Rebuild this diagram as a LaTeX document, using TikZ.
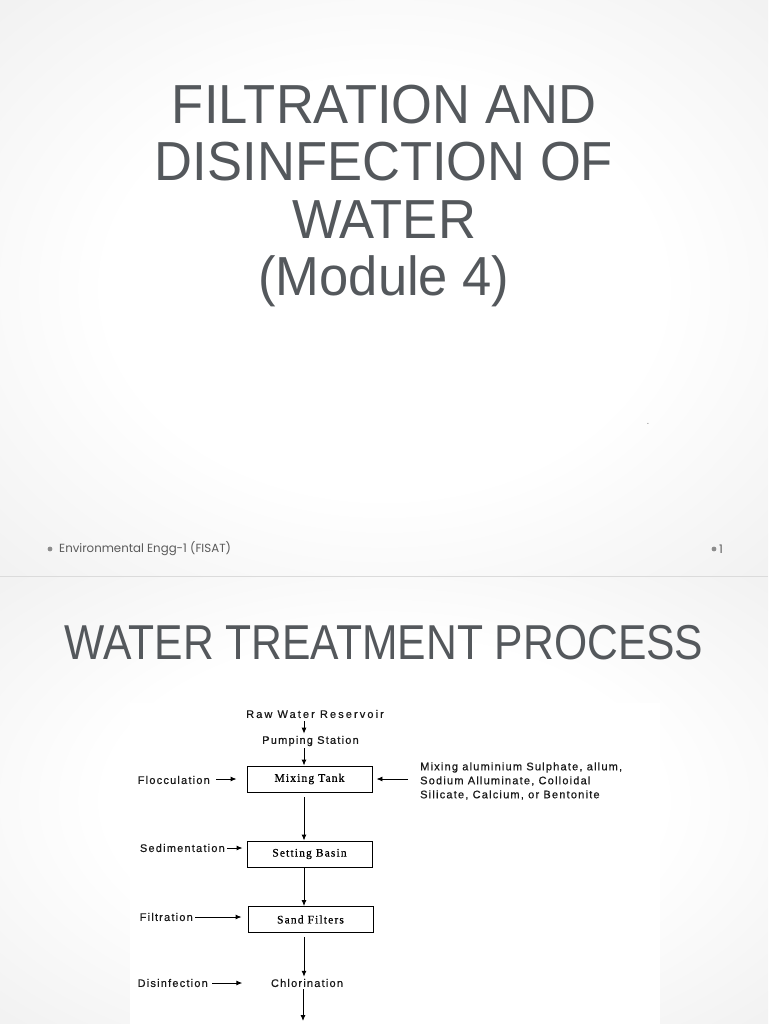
\documentclass[tikz,border=0pt]{standalone}
\usepackage{fontspec}
\usepackage{xcolor}
\usepackage{tikz}
\usetikzlibrary{positioning,arrows.meta}
\setmainfont{Liberation Sans}
\newfontfamily\titlefont[FakeStretch=0.955]{Liberation Sans}
\newfontfamily\headfont[FakeStretch=0.87]{Liberation Sans}
\newfontfamily\footfont{Poppins}
\newfontfamily\diagfont[LetterSpace=11, FakeBold=0.6]{Liberation Sans}
\newfontfamily\widefont[LetterSpace=19, FakeBold=0.6]{Liberation Sans}
\newfontfamily\boxfont[LetterSpace=10, FakeBold=0.6]{Liberation Serif}
\definecolor{titlegray}{RGB}{84,88,92}
\definecolor{footgray}{RGB}{90,90,90}
\definecolor{dotgray}{RGB}{140,140,140}
\definecolor{bgmid}{RGB}{234,234,234}
\definecolor{bgedge}{RGB}{210,210,210}
\pgfdeclareradialshading{slideglow}{\pgfpoint{0bp}{0bp}}{color(0bp)=(white); color(18bp)=(white); color(45bp)=(bgmid); color(71bp)=(bgedge)}

\begin{document}
\begin{tikzpicture}[
  x=1pt, y=-1pt,
  title/.style={text=titlegray, align=center, font=\titlefont\fontsize{55}{57.3}\selectfont},
  head/.style={text=titlegray, font=\headfont\fontsize{49}{55}\selectfont},
  foot/.style={text=footgray, font=\footfont\fontsize{11.8}{14}\selectfont, inner sep=0pt},
  lbl/.style={text=black!90, font=\diagfont\fontsize{11}{14}\selectfont, inner sep=2pt},
  procbox/.style={draw, line width=0.9pt, minimum width=125pt, minimum height=26pt, font=\boxfont\fontsize{11.5}{12}\selectfont},
  arr/.style={-{Latex[length=6pt,width=5pt]}, line width=0.9pt}
]
\useasboundingbox (0,0) rectangle (768,1024);
\shade[shading=slideglow] (0,0) rectangle (768,576);
\shade[shading=slideglow] (0,577) rectangle (768,1024);
\draw[black!14, line width=1pt] (0,576.5) -- (768,576.5);

\node[title] (title) at (384,196) {FILTRATION AND\\DISINFECTION OF\\WATER\\(Module 4)};
\node[text=dotgray, font=\fontsize{10}{12}\selectfont] (dot) at (648,424) {.};
\fill[dotgray] (50,549) circle (2.4pt);
\node[foot, anchor=west] (course) at (59,549) {Environmental Engg-1 (FISAT)};
\fill[dotgray] (714,549) circle (2.4pt);
\node[foot, anchor=west] (page) at (719,549) {1};

\node[head] (head) at (384,643) {WATER TREATMENT PROCESS};
\fill[white] (130,703) rectangle (660,1024);

\coordinate (spine) at (304,0);
\node[lbl, font=\widefont\fontsize{11}{14}\selectfont] (raw) at (315,714) {Raw Water Reservoir};
\node[lbl] (pump) at (310.5,741) {Pumping Station};
\node[procbox] (mix) at (309.5,779) {Mixing Tank};
\node[procbox] (settle) at (309.5,854) {Setting Basin};
\node[procbox] (sand) at (310.5,919.5) {Sand Filters};
\node[lbl, minimum width=125pt] (chlor) at (307,983) {Chlorination};
\coordinate (next) at (303,1021);

\node[lbl, anchor=east] (floc) at (212,780) {Flocculation};
\node[lbl, anchor=west, align=left] (chem) at (418,781) {Mixing aluminium Sulphate, allum,\\Sodium Alluminate, Colloidal\\Silicate, Calcium, or Bentonite};
\node[lbl, anchor=east] (sed) at (227,848) {Sedimentation};
\node[lbl, anchor=east] (filt) at (195,917) {Filtration};
\node[lbl, anchor=east] (dis) at (210,983) {Disinfection};

\draw[arr, shorten <=1pt] (raw.south -| spine) -- (pump.north -| spine);
\draw[arr] (pump.south -| spine) -- (mix.north -| spine);
\draw[arr, shorten <=5pt] (mix.south -| spine) -- (settle.north -| spine);
\draw[arr] (settle.south -| spine) -- (sand.north -| spine);
\draw[arr, shorten <=4pt] (sand.south -| spine) -- (chlor.north -| spine);
\draw[arr] (chlor.south -| next) -- (next);
\draw[arr, shorten <=4pt, shorten >=10pt] (floc.east |- mix) -- (mix.west);
\draw[arr, shorten <=10pt, shorten >=4pt] (chem.west |- mix) -- (mix.east);
\draw[arr, shorten >=4pt] (sed.east) -- (sed.east -| settle.west);
\draw[arr, shorten >=6pt] (filt.east) -- (filt.east -| sand.west);
\draw[arr, shorten <=2pt, shorten >=2pt] (dis) -- (chlor);
\end{tikzpicture}
\end{document}
